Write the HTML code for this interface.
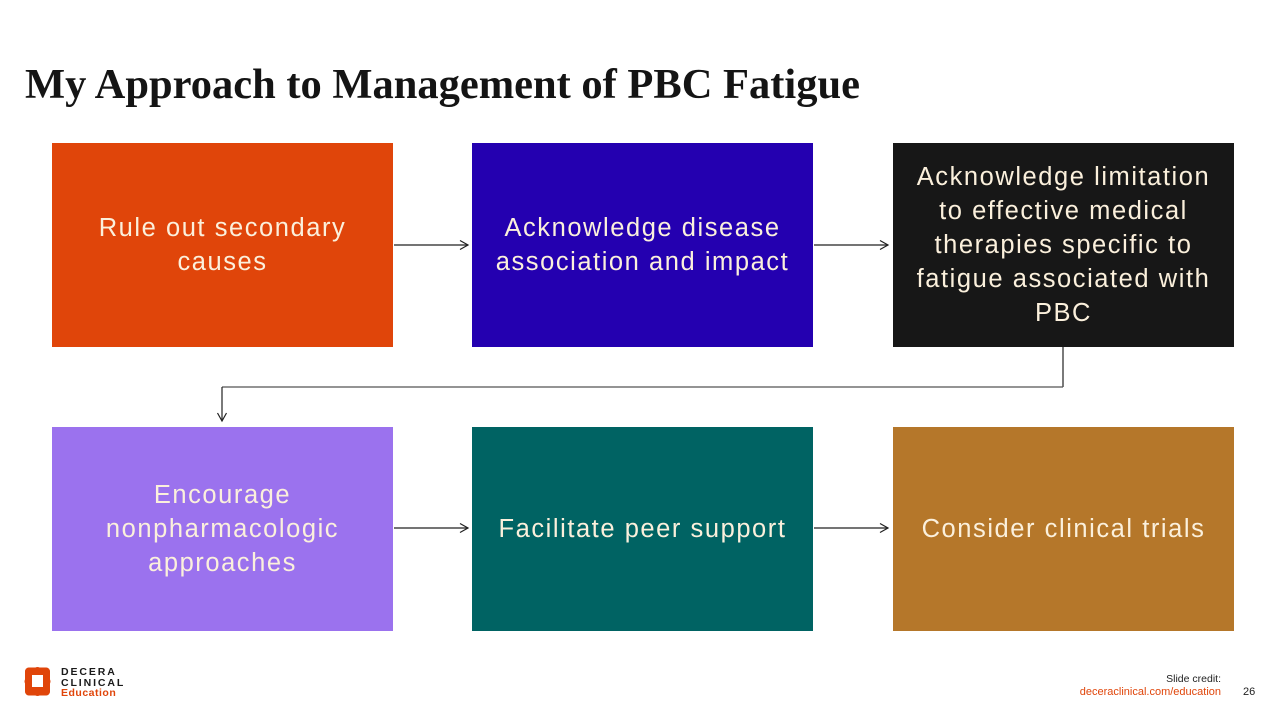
<!DOCTYPE html>
<html><head><meta charset="utf-8">
<style>
html,body{margin:0;padding:0;}
body{width:1280px;height:720px;position:relative;background:#fff;overflow:hidden;font-family:"Liberation Sans",sans-serif;}
.title{position:absolute;left:25px;top:59px;font-family:"Liberation Serif",serif;font-weight:bold;font-size:42.5px;color:#141414;white-space:nowrap;line-height:52px;}
.box{position:absolute;width:341px;height:204px;display:flex;align-items:center;justify-content:center;text-align:center;color:#FBF0DC;font-size:25.5px;line-height:34px;letter-spacing:1.55px;}
.b1{left:52px;top:143px;background:#E0450A;}
.b2{left:472px;top:143px;background:#2400B0;}
.b3{left:893px;top:143px;background:#171717;}
.b4{left:52px;top:427px;background:#9B72EE;}
.b5{left:472px;top:427px;background:#006363;}
.b6{left:893px;top:427px;background:#B5772A;}
svg{position:absolute;left:0;top:0;}
.lt{position:absolute;left:61px;font-weight:bold;font-size:10.5px;letter-spacing:1.9px;color:#1a1a1a;line-height:10px;}
.credit{position:absolute;right:59px;font-size:10.5px;text-align:right;line-height:12px;}
</style></head><body>
<div class="title">My Approach to Management of PBC Fatigue</div>

<div class="box b1">Rule out secondary<br>causes</div>
<div class="box b2">Acknowledge disease<br>association and impact</div>
<div class="box b3">Acknowledge limitation<br>to effective medical<br>therapies specific to<br>fatigue associated with<br>PBC</div>
<div class="box b4">Encourage<br>nonpharmacologic<br>approaches</div>
<div class="box b5">Facilitate peer support</div>
<div class="box b6">Consider clinical trials</div>

<svg width="1280" height="720" viewBox="0 0 1280 720">
<g stroke="#222" stroke-width="1.2" fill="none">
<line x1="394" y1="245" x2="468" y2="245"/>
<polyline points="460,240.5 468,245 460,249.5"/>
<line x1="814" y1="245" x2="888" y2="245"/>
<polyline points="880,240.5 888,245 880,249.5"/>
<line x1="394" y1="528" x2="468" y2="528"/>
<polyline points="460,523.5 468,528 460,532.5"/>
<line x1="814" y1="528" x2="888" y2="528"/>
<polyline points="880,523.5 888,528 880,532.5"/>
<line x1="1063" y1="347" x2="1063" y2="387"/>
<line x1="1063" y1="387" x2="222" y2="387" stroke="#555"/>
<line x1="222" y1="387" x2="222" y2="421"/>
<polyline points="217.5,413 222,421 226.5,413"/>
</g>
<g fill="#E0450A">
<circle cx="29.5" cy="672" r="4.5"/>
<circle cx="45.5" cy="672" r="4.5"/>
<circle cx="29.5" cy="691" r="4.5"/>
<circle cx="45.5" cy="691" r="4.5"/>
<circle cx="37.5" cy="671" r="4"/>
<circle cx="37.5" cy="692" r="4"/>
<circle cx="28.5" cy="681.5" r="4"/>
<circle cx="46.5" cy="681.5" r="4"/>
<rect x="25" y="667.5" width="25" height="28" rx="4"/>
</g>
<rect x="32" y="675" width="11" height="12" fill="#fff"/>
</svg>

<div class="lt" style="top:667px;">DECERA</div>
<div class="lt" style="top:678px;">CLINICAL</div>
<div class="lt" style="top:688px;color:#E0450A;letter-spacing:0.5px;font-size:10.5px;">Education</div>

<div class="credit" style="top:673px;color:#222;">Slide credit:</div>
<div class="credit" style="top:686px;color:#E0450A;font-size:11px;">deceraclinical.com/education</div>
<div style="position:absolute;left:1243px;top:686px;font-size:11px;color:#222;line-height:12px;">26</div>
</body></html>
